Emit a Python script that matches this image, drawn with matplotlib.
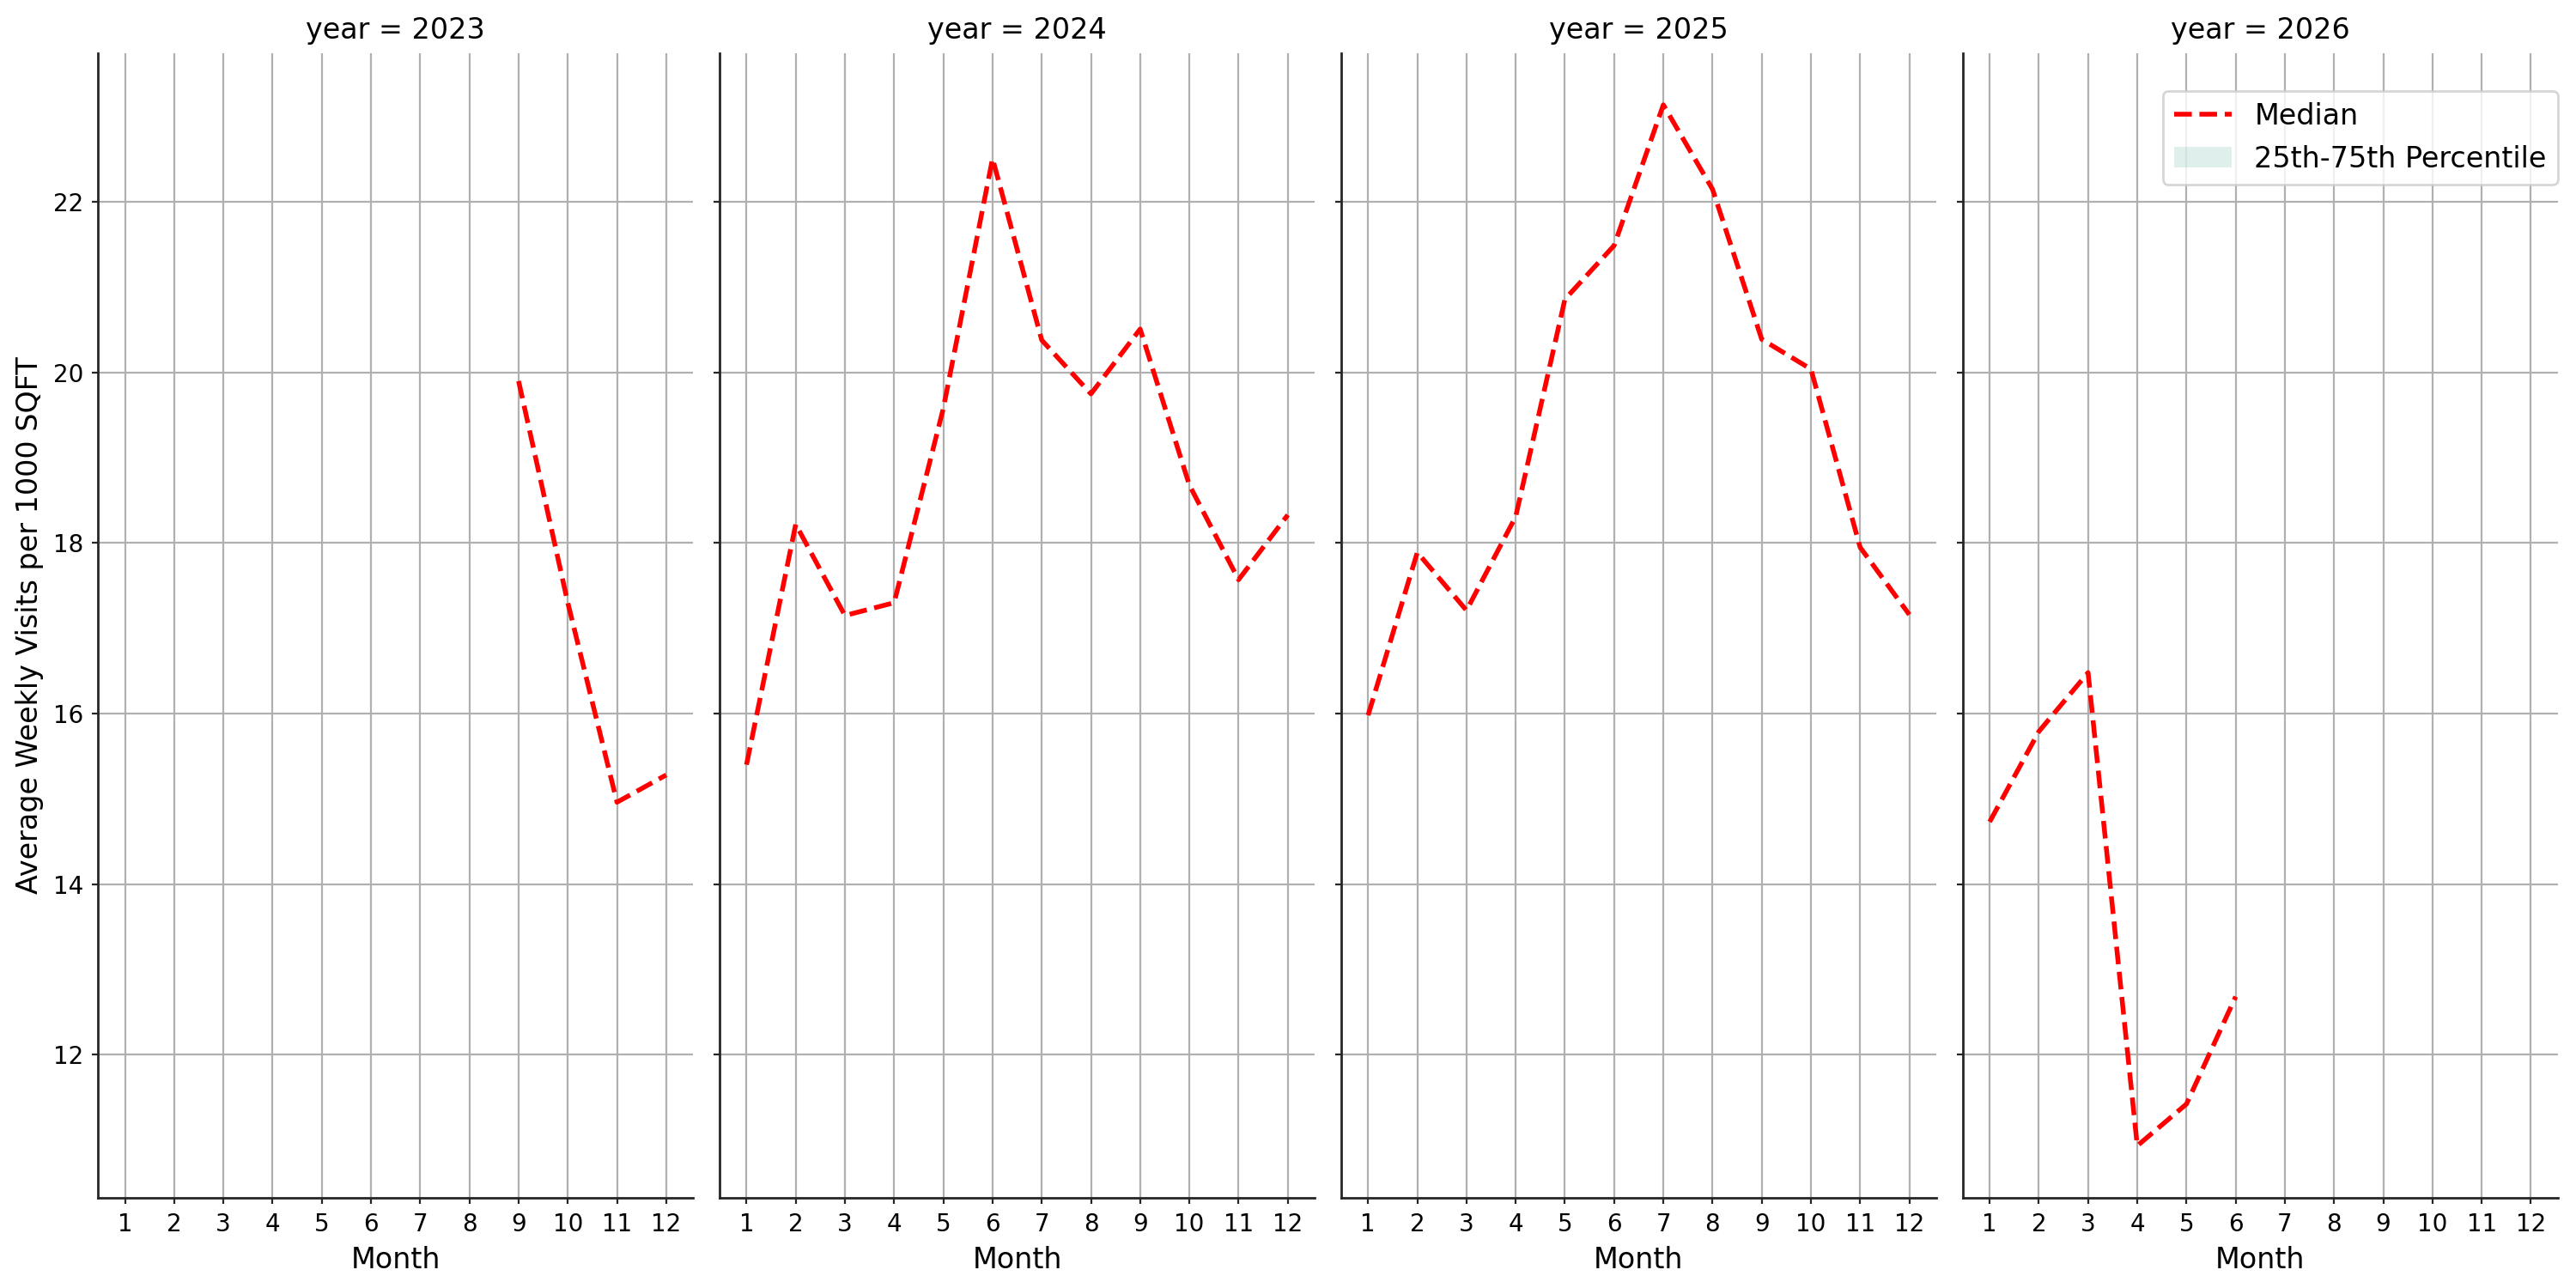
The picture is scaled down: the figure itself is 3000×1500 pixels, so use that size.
import numpy as np
import matplotlib
matplotlib.use("Agg")
import matplotlib.pyplot as plt
from matplotlib.patches import Patch
from matplotlib.lines import Line2D

years = [2023, 2024, 2025, 2026]
months = list(range(1, 13))

median_2023 = [np.nan] * 8 + [19.90, 17.30, 14.96, 15.28]
median_2024 = [15.40, 18.22, 17.15, 17.30, 19.58, 22.51, 20.38, 19.75, 20.51, 18.68, 17.57, 18.33]
median_2025 = [15.98, 17.89, 17.21, 18.31, 20.86, 21.49, 23.14, 22.15, 20.39, 20.04, 17.95, 17.16]
median_2026 = [14.73, 15.79, 16.48, 10.93, 11.42, 12.68] + [np.nan] * 6

medians = {2023: median_2023, 2024: median_2024, 2025: median_2025, 2026: median_2026}

fig, axes = plt.subplots(1, 4, figsize=(15, 7.5), dpi=200, sharex=True, sharey=True)
fig.subplots_adjust(left=0.038, right=0.993, bottom=0.070, top=0.959, wspace=0.044)

for ax, yr in zip(axes, years):
    ax.plot(months, medians[yr], color="red", linestyle="--", linewidth=2, label="Median")
    ax.set_title(f"year = {yr}", fontsize=12)
    ax.set_xlabel("Month", fontsize=12)
    ax.set_xticks(months)
    ax.grid(True, color="#b0b0b0", linewidth=0.8)
    ax.set_axisbelow(True)
    ax.spines["top"].set_visible(False)
    ax.spines["right"].set_visible(False)
    for s in ("left", "bottom"):
        ax.spines[s].set_color("#262626")
        ax.spines[s].set_linewidth(1.0)
    ax.tick_params(labelsize=10, length=2.5, color="#262626")

axes[0].set_ylabel("Average Weekly Visits per 1000 SQFT", fontsize=12)
axes[0].set_yticks([12, 14, 16, 18, 20, 22])

handles = [Line2D([0], [0], color="red", linestyle="--", linewidth=2),
           Patch(facecolor="#5fb4a0", alpha=0.2, edgecolor="none")]
axes[3].legend(handles, ["Median", "25th-75th Percentile"], loc="upper right",
               bbox_to_anchor=(1.0, 0.967), borderaxespad=0.0, fontsize=12)

fig.savefig("out.png", dpi=200)
